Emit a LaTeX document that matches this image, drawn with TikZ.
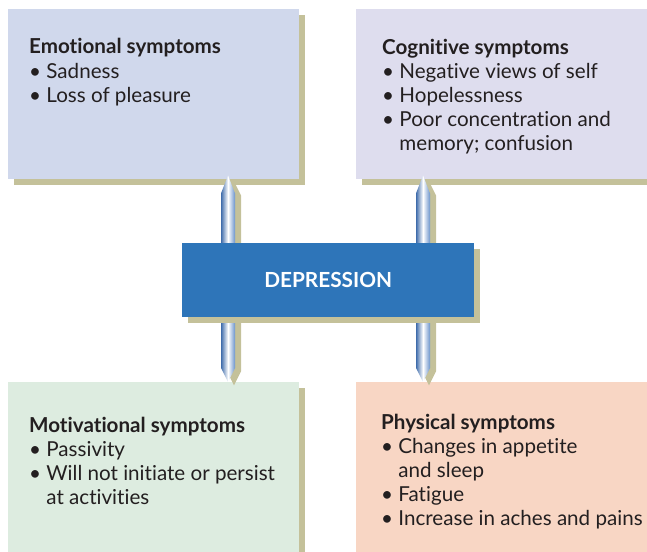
\documentclass[tikz,border=0pt]{standalone}
\usepackage{fontspec}
\setmainfont[Ligatures=NoCommon]{Lato}
\usetikzlibrary{positioning,calc,shadows}

\definecolor{emocol}{RGB}{208,216,236}
\definecolor{cogcol}{RGB}{222,221,238}
\definecolor{motcol}{RGB}{221,236,224}
\definecolor{phycol}{RGB}{248,214,196}
\definecolor{depcol}{RGB}{46,117,185}
\definecolor{shadcol}{RGB}{196,193,154}
\definecolor{pincol}{RGB}{70,120,190}
\definecolor{textcol}{RGB}{35,31,32}

\newcommand{\bul}{\textbullet\ }
\newcommand{\cont}{\phantom{\textbullet\ }}

\begin{document}
\begin{tikzpicture}[x=1pt,y=-1pt,
    symbox/.style={rectangle,anchor=north west,inner sep=0,minimum width=291,minimum height=170,
      drop shadow={shadow xshift=6pt,shadow yshift=-6pt,fill=shadcol,opacity=1}},
    symtext/.style={anchor=base west,inner sep=0,align=left,text=textcol,
      font=\fontsize{20.6}{24}\selectfont}]
  \useasboundingbox (0,0) rectangle (647,551);

  % Symptom boxes
  \node[symbox,fill=emocol] (emo) at (8,9) {};
  \node[symbox,fill=cogcol] (cog) at (356,9) {};
  \node[symbox,fill=motcol] (mot) at (8,382) {};
  \node[symbox,fill=phycol] (phy) at (356,382) {};

  % Pins
  \coordinate (pinL) at (228,0);
  \coordinate (pinR) at (423,0);
  \foreach \p/\a/\b in {pinL/emo/mot,pinR/cog/phy}{
    \fill[shadcol] ($(\p |- \a.south)+(6,2)$) -- ++(7,14) -- ++(0,176) -- ++(-7,14) -- ++(-7,-14) -- ++(0,-176) -- cycle;
    \shade[left color=pincol!90!black,right color=pincol!80,middle color=white]
      ($(\p |- \a.south)+(0,-4)$) -- ($(\p |- \a.south)+(7,14)$) -- ($(\p |- \b.north)+(7,-14)$)
      -- (\p |- \b.north) -- ($(\p |- \b.north)+(-7,-14)$) -- ($(\p |- \a.south)+(-7,14)$) -- cycle;
  }

  % Centre
  \node[rectangle,anchor=north west,inner sep=0,minimum width=292,minimum height=74,fill=depcol,
    drop shadow={shadow xshift=6pt,shadow yshift=-6pt,fill=shadcol,opacity=1}] (dep) at (182,243) {};
  \node[text=white,font=\fontsize{20.8}{24}\selectfont\bfseries] (deptxt) at (dep.center) {DEPRESSION};

  % Texts (placed by the baseline of their last line)
  \node[symtext] (emotxt) at (29,102) {\textbf{Emotional symptoms}\\ \bul Sadness\\ \bul Loss of pleasure};
  \node[symtext] (cogtxt) at (382,150) {\textbf{Cognitive symptoms}\\ \bul Negative views of self\\ \bul Hopelessness\\ \bul Poor concentration and\\ \cont memory; confusion};
  \node[symtext] (mottxt) at (29,504) {\textbf{Motivational symptoms}\\ \bul Passivity\\ \bul Will not initiate or persist\\ \cont at activities};
  \node[symtext] (phytxt) at (381,525) {\textbf{Physical symptoms}\\ \bul Changes in appetite\\ \cont and sleep\\ \bul Fatigue\\ \bul Increase in aches and pains};
\end{tikzpicture}
\end{document}
